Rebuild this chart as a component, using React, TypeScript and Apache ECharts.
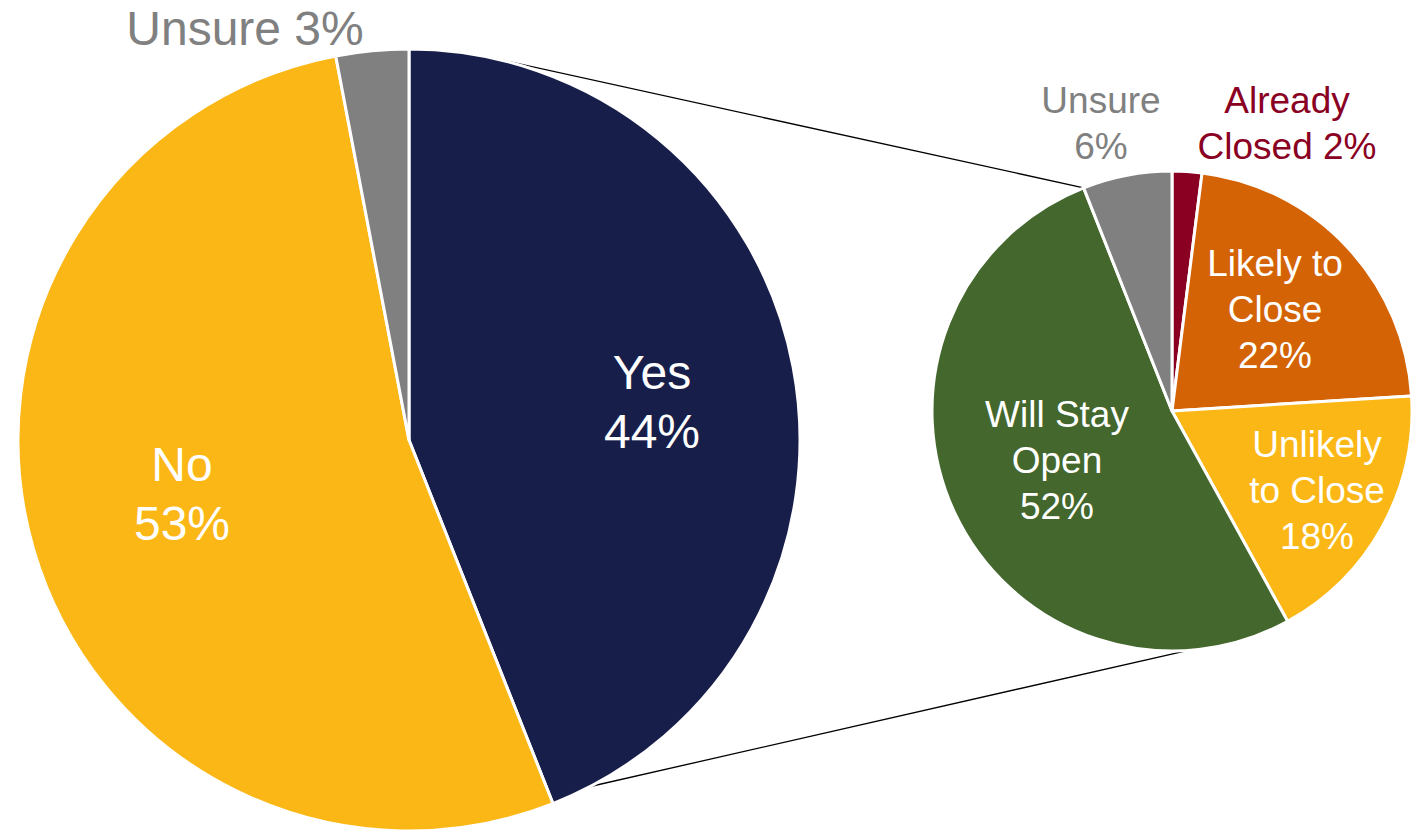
import React, { useEffect, useRef } from "react";
import * as echarts from "echarts";

// ---- data ----
const bigNames = ["Yes", "No", "Unsure"];
const bigValues = [44, 53, 3];
const bigLabels = ["Yes\n44%", "No\n53%", "Unsure 3%"];

const smallNames = ["Already Closed", "Likely to Close", "Unlikely to Close", "Will Stay Open", "Unsure"];
const smallValues = [2, 22, 18, 52, 6];
const smallLabels = ["Already\nClosed 2%", "Likely to\nClose\n22%", "Unlikely\nto Close\n18%", "Will Stay\nOpen\n52%", "Unsure\n6%"];

// ---- styles / layout ----
const bigColors = ["#181E4A", "#FBB716", "#808080"];
const bigLabelColors = ["#FFFFFF", "#FFFFFF", "#808080"];
const smallColors = ["#8A0022", "#D46306", "#FBB716", "#43672C", "#808080"];
const smallLabelColors = ["#8A0022", "#FFFFFF", "#FFFFFF", "#FFFFFF", "#808080"];

const bigLabelPos = [[652, 402], [182, 494], [245, 28]];
const smallLabelPos = [[1287, 123], [1275, 309], [1317, 490], [1057, 460], [1101, 123]];

const BIG = { cx: 409, cy: 440, r: 391 };
const SMALL = { cx: 1172, cy: 411, r: 240 };

const pt = (c: { cx: number; cy: number; r: number }, deg: number) => {
  const a = (deg * Math.PI) / 180;
  return [c.cx + c.r * Math.sin(a), c.cy - c.r * Math.cos(a)];
};

export default function App() {
  const ref = useRef<HTMLDivElement>(null);
  useEffect(() => {
    if (!ref.current) return;
    const chart = echarts.init(ref.current, null, { renderer: "svg" });
    const font = "'Liberation Sans', Arial, sans-serif";

    const u1 = pt(BIG, 12.4);
    const u2 = pt(SMALL, 338.4);
    const l1 = pt(BIG, 152.4);
    const l2 = pt(SMALL, 176.4);

    chart.setOption({
      animation: false,
      backgroundColor: "#FFFFFF",
      graphic: [
        { type: "line", shape: { x1: u1[0], y1: u1[1], x2: u2[0], y2: u2[1] }, style: { stroke: "#000", lineWidth: 1.3 }, z: 0 },
        { type: "line", shape: { x1: l1[0], y1: l1[1], x2: l2[0], y2: l2[1] }, style: { stroke: "#000", lineWidth: 1.3 }, z: 0 },
      ],
      series: [
        {
          type: "pie",
          center: [BIG.cx, BIG.cy],
          radius: [0, BIG.r],
          startAngle: 90,
          clockwise: true,
          z: 2,
          itemStyle: { borderColor: "#FFFFFF", borderWidth: 3 },
          label: {
            show: true,
            position: "inside",
            fontFamily: font,
            fontSize: 48,
            lineHeight: 59,
            align: "center",
            formatter: (p: any) => bigLabels[p.dataIndex],
          },
          labelLine: { show: false },
          labelLayout: (p: any) => ({
            x: bigLabelPos[p.dataIndex][0],
            y: bigLabelPos[p.dataIndex][1],
            align: "center",
            verticalAlign: "middle",
          }),
          emphasis: { disabled: true },
          data: bigNames.map((n, i) => ({
            name: n,
            value: bigValues[i],
            itemStyle: { color: bigColors[i] },
            label: { color: bigLabelColors[i] },
          })),
        },
        {
          type: "pie",
          center: [SMALL.cx, SMALL.cy],
          radius: [0, SMALL.r],
          startAngle: 90,
          clockwise: true,
          z: 2,
          itemStyle: { borderColor: "#FFFFFF", borderWidth: 3 },
          label: {
            show: true,
            position: "inside",
            fontFamily: font,
            fontSize: 37,
            lineHeight: 46,
            align: "center",
            formatter: (p: any) => smallLabels[p.dataIndex],
          },
          labelLine: { show: false },
          labelLayout: (p: any) => ({
            x: smallLabelPos[p.dataIndex][0],
            y: smallLabelPos[p.dataIndex][1],
            align: "center",
            verticalAlign: "middle",
          }),
          emphasis: { disabled: true },
          data: smallNames.map((n, i) => ({
            name: n,
            value: smallValues[i],
            itemStyle: { color: smallColors[i] },
            label: { color: smallLabelColors[i] },
          })),
        },
      ],
    });
    return () => chart.dispose();
  }, []);
  return (
    <div
      ref={ref}
      style={{ position: "fixed", left: 0, top: 0, width: 1419, height: 830, background: "#fff" }}
    />
  );
}
